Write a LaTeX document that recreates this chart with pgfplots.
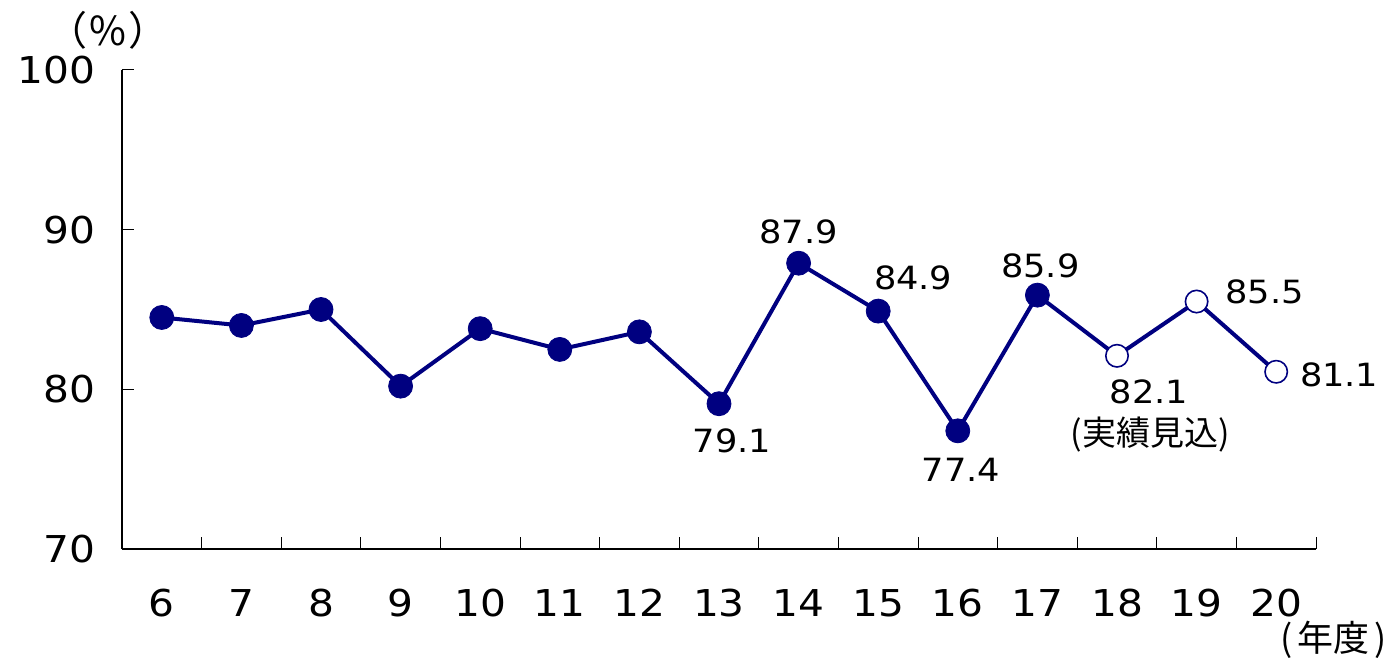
\documentclass[border=0pt]{standalone}
\usepackage{fontspec}
\setmainfont{Noto Sans CJK JP}
\newfontfamily\numfont[FakeStretch=1.1]{DejaVu Sans}
\usepackage{pgfplots}
\pgfplotsset{compat=1.18}
\definecolor{navyline}{RGB}{0,0,128}

\begin{document}
\begin{tikzpicture}
\useasboundingbox (-61pt,-54.5pt) rectangle (635pt,274.5pt);
\begin{axis}[
  at={(0,0)}, anchor=south west,
  scale only axis,
  width=597pt, height=239.5pt,
  xmin=5.5, xmax=20.5,
  ymin=70, ymax=100,
  axis x line=bottom, axis y line=left,
  axis line style={black, line width=0.6pt, -},
  xtick={6,...,20},
  minor xtick={5.5,6.5,...,20.5},
  ytick={70,80,90,100},
  tick align=inside,
  major tick length=6pt,
  minor tick length=6pt,
  x tick style={draw=none},
  minor x tick style={draw=black, line width=0.5pt},
  y tick style={black, line width=0.5pt},
  tick label style={font=\numfont\fontsize{18.5}{22}\selectfont},
  /pgf/number format/assume math mode=true,
  xticklabel style={inner sep=0pt, yshift=-20pt},
  yticklabel style={xshift=-10pt},
  clip=false,
]
% connecting line through all years
\addplot[navyline, line width=2pt, mark=none] coordinates {
  (6,84.5) (7,84.0) (8,85.0) (9,80.2) (10,83.8) (11,82.5) (12,83.6)
  (13,79.1) (14,87.9) (15,84.9) (16,77.4) (17,85.9) (18,82.1) (19,85.5) (20,81.1)
};
% actual results
\addplot[only marks, mark=*, mark size=6pt, mark options={fill=navyline, draw=navyline}] coordinates {
  (6,84.5) (7,84.0) (8,85.0) (9,80.2) (10,83.8) (11,82.5) (12,83.6)
  (13,79.1) (14,87.9) (15,84.9) (16,77.4) (17,85.9)
};
% estimates
\addplot[only marks, mark=*, mark size=5.6pt, mark options={fill=white, draw=navyline, line width=0.8pt}] coordinates {
  (18,82.1) (19,85.5) (20,81.1)
};

\begin{scope}[every node/.style={font=\numfont\fontsize{16}{19}\selectfont, inner sep=0pt}]
\node at (axis cs:13,79.1) [xshift=6.5pt, yshift=-18.5pt] {79.1};
\node at (axis cs:14,87.9) [xshift=0pt, yshift=15.5pt] {87.9};
\node at (axis cs:15,84.9) [xshift=17.5pt, yshift=16.5pt] {84.9};
\node at (axis cs:16,77.4) [xshift=1.5pt, yshift=-19.5pt] {77.4};
\node at (axis cs:17,85.9) [xshift=1.5pt, yshift=14.5pt] {85.9};
\node at (axis cs:18,82.1) [xshift=16pt, yshift=-18pt] {82.1};
\node at (axis cs:19,85.5) [xshift=34pt, yshift=5pt] {85.5};
\node at (axis cs:20,81.1) [xshift=31.5pt, yshift=-1.5pt] {81.1};
\end{scope}
\node[font=\fontsize{17}{20}\selectfont, inner sep=0pt] at (axis cs:18,82.1) [xshift=16.5pt, yshift=-39.5pt] {(実績見込)};
\end{axis}
\node[font=\fontsize{20}{24}\selectfont, inner sep=0pt] at (-7pt,259.5pt) {（\kern1pt\%\kern1pt）};
\node[font=\fontsize{18}{22}\selectfont, inner sep=0pt] at (606pt,-45.5pt) {(\kern2.5pt年度\kern2.5pt)};
\end{tikzpicture}
\end{document}
